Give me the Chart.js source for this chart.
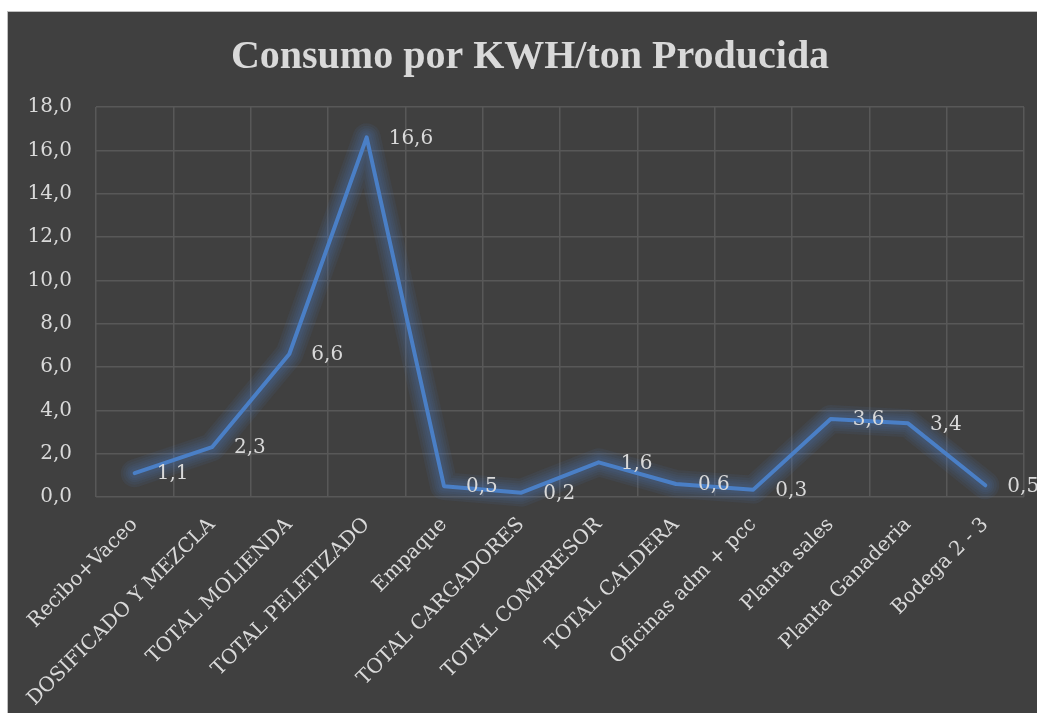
<!DOCTYPE html>
<html><head><meta charset="utf-8">
<script src="https://cdn.jsdelivr.net/npm/chart.js@4.4.1/dist/chart.umd.min.js"></script>
<style>
html,body{margin:0;padding:0;background:#fff;overflow:hidden;width:1037px;height:713px;}
#wrap{position:absolute;left:7px;top:11px;width:1030px;height:702px;border-left:1px solid #bfbfbf;border-top:1px solid #bfbfbf;background:#404040;}
canvas{display:block;}
</style></head><body>
<div id="wrap"><canvas id="c" width="1030" height="702"></canvas></div>
<script>
const chartTitle = 'Consumo por KWH/ton Producida';
const categories = ['Recibo+Vaceo','DOSIFICADO Y MEZCLA','TOTAL MOLIENDA','TOTAL PELETIZADO','Empaque','TOTAL CARGADORES','TOTAL COMPRESOR','TOTAL CALDERA','Oficinas adm + pcc','Planta sales','Planta Ganaderia','Bodega 2 - 3'];
const values = [1.1, 2.3, 6.6, 16.6, 0.5, 0.2, 1.6, 0.6, 0.34, 3.6, 3.4, 0.54];
const yTickValues = [0, 2, 4, 6, 8, 10, 12, 14, 16, 18];
const yTickLabels = ['0,0','2,0','4,0','6,0','8,0','10,0','12,0','14,0','16,0','18,0'];

const TXT = '#d9d9d9';
const FONT = 'DejaVu Serif';
const fmt = v => v.toFixed(1).replace('.', ',');

// soft glow halo under the line, following the points placed by the scales
const glow = {
  id: 'glow',
  beforeDatasetDraw(chart) {
    const ctx = chart.ctx;
    const pts = chart.getDatasetMeta(0).data;
    ctx.save();
    ctx.lineJoin = 'round'; ctx.lineCap = 'round';
    [28, 23, 18, 14, 10].forEach(w => {
      ctx.beginPath();
      pts.forEach((p, i) => i ? ctx.lineTo(p.x, p.y) : ctx.moveTo(p.x, p.y));
      ctx.lineWidth = w;
      ctx.strokeStyle = 'rgba(74,127,198,0.08)';
      ctx.stroke();
    });
    ctx.restore();
  }
};
const dataLabels = {
  id: 'dataLabels',
  afterDatasetsDraw(chart) {
    const ctx = chart.ctx;
    const meta = chart.getDatasetMeta(0);
    ctx.save();
    ctx.font = '20px "' + FONT + '"';
    ctx.fillStyle = TXT;
    ctx.textAlign = 'left';
    ctx.textBaseline = 'middle';
    meta.data.forEach((pt, i) => {
      ctx.fillText(fmt(values[i]), pt.x + 22, pt.y + 1);
    });
    ctx.restore();
  }
};
const titlePlugin = {
  id: 'titlePlugin',
  afterDraw(chart) {
    const ctx = chart.ctx;
    ctx.save();
    ctx.font = 'bold 40px "Liberation Serif"';
    ctx.fillStyle = TXT;
    ctx.textAlign = 'center';
    ctx.textBaseline = 'alphabetic';
    ctx.fillText(chartTitle, 522, 56);
    ctx.restore();
  }
};

new Chart(document.getElementById('c'), {
  type: 'line',
  data: {
    labels: categories,
    datasets: [{
      data: values,
      borderColor: '#4a7fc6',
      borderWidth: 4,
      pointRadius: 0,
      tension: 0,
      fill: false,
      borderJoinStyle: 'round',
      borderCapStyle: 'round'
    }]
  },
  options: {
    responsive: false,
    devicePixelRatio: 1,
    animation: false,
    layout: { padding: { top: 95, right: 14, left: 0, bottom: 0 } },
    plugins: { legend: { display: false }, tooltip: { enabled: false }, title: { display: false } },
    scales: {
      x: {
        offset: true,
        grid: { offset: true, color: '#585858', lineWidth: 1.5, drawTicks: false },
        border: { display: false },
        ticks: {
          autoSkip: false, minRotation: 45, maxRotation: 45, padding: 16,
          color: TXT, font: { family: FONT, size: 20 }
        },
        afterFit(s) { s.height = 217; s.paddingLeft = 0; s.paddingRight = 0; }
      },
      y: {
        min: 0, max: 18,
        afterBuildTicks(s) { s.ticks = yTickValues.map(v => ({ value: v })); },
        grid: { color: '#585858', lineWidth: 1.5, drawTicks: false },
        border: { display: false },
        ticks: {
          padding: 24, color: TXT, font: { family: FONT, size: 20 },
          callback: (v) => yTickLabels[yTickValues.indexOf(v)]
        },
        afterFit(s) { s.width = 88; s.paddingTop = 0; s.paddingBottom = 0; }
      }
    }
  },
  plugins: [glow, dataLabels, titlePlugin]
});
</script>
</body></html>
